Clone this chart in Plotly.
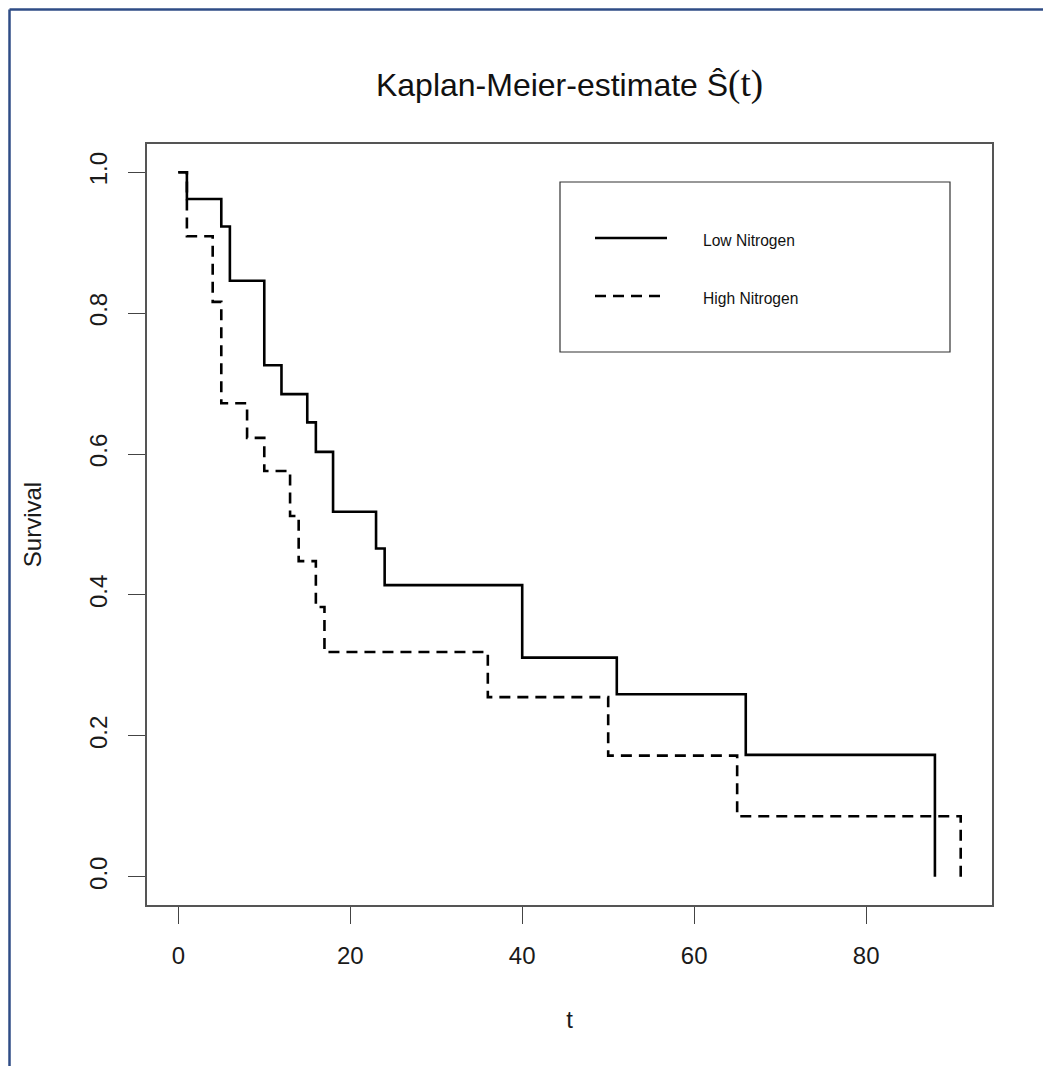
import plotly.graph_objects as go

# ---- data ----
low_t = [0, 1, 5, 6, 10, 12, 15, 16, 18, 23, 24, 40, 51, 66, 88]
low_s = [1.0, 0.962, 0.923, 0.846, 0.726, 0.685, 0.645, 0.603, 0.518, 0.466, 0.414, 0.311, 0.259, 0.173, 0.0]

high_t = [0, 1, 4, 5, 8, 10, 13, 14, 16, 17, 36, 50, 65, 91]
high_s = [1.0, 0.909, 0.816, 0.672, 0.623, 0.576, 0.512, 0.448, 0.383, 0.319, 0.255, 0.172, 0.086, 0.0]

series_names = ["Low Nitrogen", "High Nitrogen"]
x_ticks = [0, 20, 40, 60, 80]
y_ticks = [0.0, 0.2, 0.4, 0.6, 0.8, 1.0]
y_tick_labels = ["0.0", "0.2", "0.4", "0.6", "0.8", "1.0"]

# ---- layout geometry (reference pixels) ----
PAGE_OFF = 8            # html body margin offset of the rendered page
W, H = 1051, 1066
FW, FH = W - PAGE_OFF, H - PAGE_OFF
L, R, T, B = 147, 992, 144, 905

def px_x(px):
    return (px - L) / (R - L)

def px_y(py):
    return (B - py) / (B - T)

FONT = "Liberation Sans, Arial, sans-serif"
DASH = "11px,7px"
LW = 2.6

fig = go.Figure()
fig.add_trace(go.Scatter(x=low_t, y=low_s, mode="lines", line_shape="hv",
                         name=series_names[0],
                         line=dict(color="black", width=LW)))
fig.add_trace(go.Scatter(x=high_t, y=high_s, mode="lines", line_shape="hv",
                         name=series_names[1],
                         line=dict(color="black", width=LW, dash=DASH)))

axis_common = dict(
    showgrid=False, zeroline=False, showline=True, mirror=True,
    linecolor="#555555", linewidth=1.5,
    ticks="outside", ticklen=17, tickwidth=1, tickcolor="#444444",
    tickfont=dict(family=FONT, size=24, color="#1a1a1a"),
)

fig.update_xaxes(range=[-3.64, 94.64], tickvals=x_ticks,
                 ticktext=[str(v) for v in x_ticks],
                 ticklabelstandoff=11,
                 title=dict(text="t", font=dict(family=FONT, size=24, color="#1a1a1a"),
                            standoff=44),
                 **axis_common)
fig.update_yaxes(range=[-0.04, 1.04], tickvals=y_ticks, ticktext=y_tick_labels,
                 tickangle=-90, ticklabelstandoff=12,
                 title=dict(text="Survival", font=dict(family=FONT, size=24, color="#1a1a1a"),
                            standoff=36),
                 **axis_common)

# ---- legend box drawn like R's legend() ----
shapes = [
    dict(type="rect", xref="paper", yref="paper",
         x0=px_x(560), x1=px_x(950), y0=px_y(352), y1=px_y(182),
         line=dict(color="#333333", width=1.2), fillcolor="rgba(0,0,0,0)"),
    dict(type="line", xref="paper", yref="paper",
         x0=px_x(595), x1=px_x(667), y0=px_y(238), y1=px_y(238),
         line=dict(color="black", width=LW)),
    dict(type="line", xref="paper", yref="paper",
         x0=px_x(595), x1=px_x(667), y0=px_y(296), y1=px_y(296),
         line=dict(color="black", width=LW, dash=DASH)),
    # screenshot frame (blue edge at top and left)
    dict(type="line", xref="paper", yref="paper",
         x0=px_x(9.5), x1=px_x(W + 5), y0=px_y(9.5), y1=px_y(9.5),
         line=dict(color="#2f4c86", width=2.5)),
    dict(type="line", xref="paper", yref="paper",
         x0=px_x(9.5), x1=px_x(9.5), y0=px_y(9.5), y1=px_y(H + 5),
         line=dict(color="#2f4c86", width=2.5)),
]

annotations = [
    dict(xref="paper", yref="paper", x=px_x(701), y=px_y(240),
         text=series_names[0], showarrow=False, xanchor="left", yanchor="middle",
         font=dict(family=FONT, size=15.6, color="#111111")),
    dict(xref="paper", yref="paper", x=px_x(701), y=px_y(298),
         text=series_names[1], showarrow=False, xanchor="left", yanchor="middle",
         font=dict(family=FONT, size=15.6, color="#111111")),
]

fig.update_layout(
    width=FW, height=FH,
    margin=dict(l=L - PAGE_OFF, r=W - R, t=T - PAGE_OFF, b=H - B, pad=0),
    paper_bgcolor="white", plot_bgcolor="white",
    showlegend=False,
    title=dict(text="Kaplan-Meier-estimate Ŝ<span style=\"font-family:'Liberation Serif';font-size:37px\">(t)</span>",
               x=0.5, xref="paper", xanchor="center",
               y=1 - (85 - PAGE_OFF) / FH, yref="container", yanchor="middle",
               font=dict(family=FONT, size=32, color="#111111")),
    shapes=shapes,
    annotations=annotations,
)

fig.write_html("out.html")
